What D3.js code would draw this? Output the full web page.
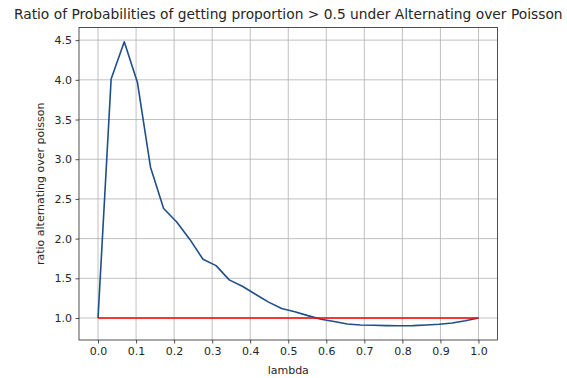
<!DOCTYPE html>
<html><head><meta charset="utf-8">
<script src="https://cdn.jsdelivr.net/npm/d3@7"></script>
<style>body{margin:0;background:#fff}svg{display:block}text{font-family:"DejaVu Sans",sans-serif;fill:#262626}</style>
</head><body>
<script>
const lambdas = d3.range(30).map(i => i / 29);
const ratio = [1.0, 4.01, 4.48, 3.97, 2.90, 2.38, 2.21, 1.99, 1.74, 1.66,
  1.48, 1.40, 1.30, 1.20, 1.12, 1.08, 1.03, 0.985, 0.955, 0.925,
  0.912, 0.908, 0.904, 0.902, 0.904, 0.912, 0.922, 0.938, 0.965, 1.0];
const baseline = [[0, 1.0], [1, 1.0]];
const xTicks = [0, 0.1, 0.2, 0.3, 0.4, 0.5, 0.6, 0.7, 0.8, 0.9, 1.0];
const yTicks = [1.0, 1.5, 2.0, 2.5, 3.0, 3.5, 4.0, 4.5];
const title = "Ratio of Probabilities of getting proportion > 0.5 under Alternating over Poisson";
const xLabel = "lambda";
const yLabel = "ratio alternating over poisson";

const W = 567, H = 378;
const m = {l: 79, r: 497.5, t: 27.5, b: 340};
const svg = d3.select("body").append("svg").attr("width", W).attr("height", H);

const ymin = d3.min(ratio), ymax = d3.max(ratio), yr = ymax - ymin;
const x = d3.scaleLinear().domain([-0.05, 1.05]).range([m.l, m.r]);
const y = d3.scaleLinear().domain([ymin - 0.05 * yr, ymax + 0.05 * yr]).range([m.b, m.t]);

const g = svg.append("g");
g.selectAll(".gx").data(xTicks).join("line")
  .attr("x1", d => x(d)).attr("x2", d => x(d)).attr("y1", m.t).attr("y2", m.b)
  .attr("stroke", "#b0b0b0").attr("stroke-width", 0.8);
g.selectAll(".gy").data(yTicks).join("line")
  .attr("y1", d => y(d)).attr("y2", d => y(d)).attr("x1", m.l).attr("x2", m.r)
  .attr("stroke", "#b0b0b0").attr("stroke-width", 0.8);

const line = d3.line().x(d => x(d[0])).y(d => y(d[1]));
g.append("path").attr("d", line(lambdas.map((l, i) => [l, ratio[i]])))
  .attr("fill", "none").attr("stroke", "#1f4e8a").attr("stroke-width", 1.6).attr("stroke-linejoin", "round");
g.append("path").attr("d", line(baseline))
  .attr("fill", "none").attr("stroke", "#ff0000").attr("stroke-width", 1.6);

const xa = svg.append("g").attr("transform", `translate(0,${m.b})`)
  .call(d3.axisBottom(x).tickValues(xTicks).tickFormat(d3.format(".1f")).tickSize(3.5).tickPadding(3.5));
const ya = svg.append("g").attr("transform", `translate(${m.l},0)`)
  .call(d3.axisLeft(y).tickValues(yTicks).tickFormat(d3.format(".1f")).tickSize(3.5).tickPadding(3.5));
[xa, ya].forEach(a => {
  a.select(".domain").remove();
  a.selectAll("text").attr("font-size", 11).attr("font-family", "DejaVu Sans").attr("fill", "#262626");
  a.selectAll("line").attr("stroke", "#262626").attr("stroke-width", 0.8);
});
svg.append("rect").attr("x", m.l).attr("y", m.t).attr("width", m.r - m.l).attr("height", m.b - m.t)
  .attr("fill", "none").attr("stroke", "#262626").attr("stroke-width", 0.8);

svg.append("text").attr("x", (m.l + m.r) / 2).attr("y", 19).attr("text-anchor", "middle")
  .attr("font-size", 13.8).text(title);
svg.append("text").attr("x", (m.l + m.r) / 2).attr("y", 374).attr("text-anchor", "middle")
  .attr("font-size", 11).text(xLabel);
svg.append("text").attr("transform", `translate(44,${(m.t + m.b) / 2}) rotate(-90)`).attr("text-anchor", "middle")
  .attr("font-size", 11).text(yLabel);
</script>
</body></html>
